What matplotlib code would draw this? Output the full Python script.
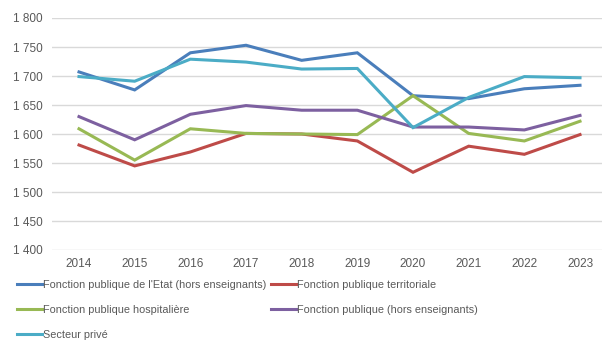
import matplotlib
matplotlib.use("Agg")
import matplotlib.pyplot as plt
from matplotlib.ticker import FuncFormatter

years = [2014, 2015, 2016, 2017, 2018, 2019, 2020, 2021, 2022, 2023]
etat = [1707, 1676, 1740, 1753, 1727, 1740, 1666, 1661, 1678, 1684]
territoriale = [1581, 1545, 1569, 1601, 1600, 1588, 1534, 1579, 1565, 1599]
hospitaliere = [1609, 1555, 1609, 1601, 1600, 1599, 1666, 1601, 1588, 1622]
fonction_publique = [1630, 1590, 1634, 1649, 1641, 1641, 1612, 1612, 1607, 1632]
secteur_prive = [1699, 1691, 1729, 1724, 1712, 1713, 1611, 1663, 1699, 1697]

labels = ["Fonction publique de l'Etat (hors enseignants)",
          "Fonction publique territoriale",
          "Fonction publique hospitalière",
          "Fonction publique (hors enseignants)",
          "Secteur privé"]
colors = ["#4a7ebb", "#be4b48", "#98b954", "#7d60a0", "#4bacc6"]
series = [etat, territoriale, hospitaliere, fonction_publique, secteur_prive]

plt.rcParams['font.family'] = ['Liberation Sans', 'DejaVu Sans']
txt = "#595959"

fig = plt.figure(figsize=(6.14, 3.57), dpi=100)
ax = fig.add_axes([52/614, 1 - 250/357, 550/614, 232/357])

handles = []
for vals, lab, col in zip(series, labels, colors):
    h, = ax.plot(years, vals, color=col, lw=2.2, label=lab, solid_joinstyle='miter')
    handles.append(h)

ax.set_ylim(1400, 1800)
ax.set_xlim(2014 - 0.485, 2023 + 0.395)
ax.set_yticks(range(1400, 1801, 50))
ax.yaxis.set_major_formatter(FuncFormatter(lambda v, p: f"{int(v):,}".replace(",", " ")))
ax.set_xticks(years)
ax.grid(axis='y', color='#d9d9d9', lw=1)
ax.set_axisbelow(True)
for s in ax.spines.values():
    s.set_visible(False)
ax.tick_params(axis='both', length=0, labelsize=8.5, colors=txt)
ax.tick_params(axis='y', pad=7)
ax.tick_params(axis='x', pad=6)

order = [0, 2, 4, 1, 3]
leg = fig.legend([handles[i] for i in order], [labels[i] for i in order],
                 ncol=2, loc='upper left', bbox_to_anchor=(17/614, 1 - 280/357),
                 frameon=False, fontsize=7.8, handlelength=2.3, handletextpad=0.1,
                 columnspacing=0.4, labelspacing=1.38, borderpad=0, borderaxespad=0)
for t in leg.get_texts():
    t.set_color(txt)

fig.savefig("out.png", dpi=100)
